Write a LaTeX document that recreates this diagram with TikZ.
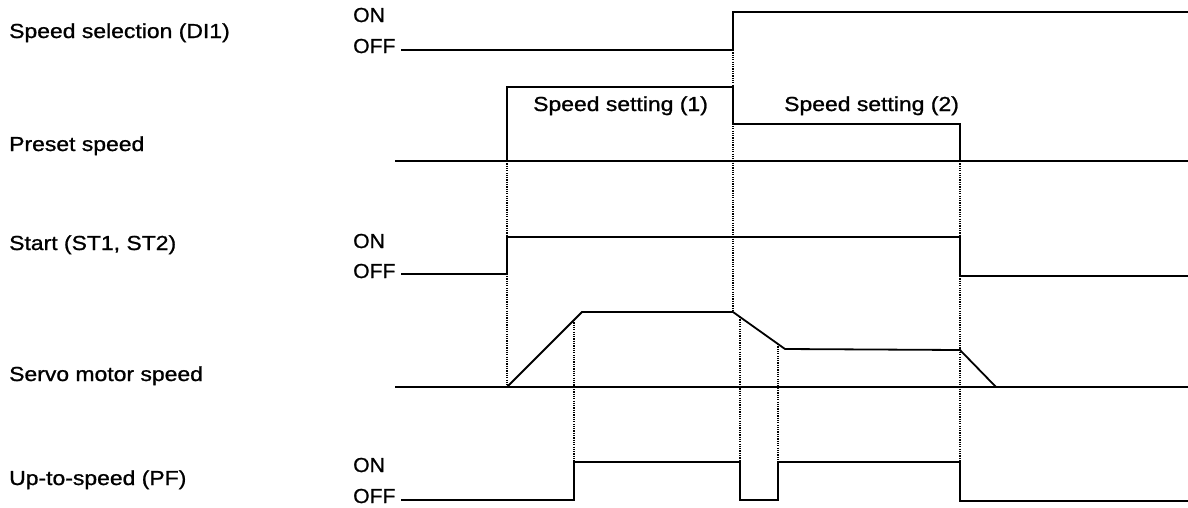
\documentclass[tikz,border=0pt]{standalone}
\usepackage{fontspec}
\usepackage{graphicx}
\setmainfont{Liberation Sans}[FakeBold=0.9]
\newcommand\widetxt[1]{\scalebox{1.13}[1]{#1}}
\newcommand\levtxt[1]{\scalebox{1.04}[1]{#1}}
\begin{document}
\begin{tikzpicture}[x=1pt,y=-1pt,
  wave/.style={line width=1.8pt,line join=miter,line cap=butt},
  guide/.style={line width=1.2pt,dash pattern=on 1.2pt off 1.1pt},
  lbl/.style={anchor=base west,inner sep=0pt,font=\fontsize{20.3}{24}\selectfont}]
\useasboundingbox[fill=white] (0,0) rectangle (1188,507);

% left labels
\node[lbl] (l1) at (9,38) {\widetxt{Speed selection (DI1)}};
\node[lbl] (l2) at (9,151) {\widetxt{Preset speed}};
\node[lbl] (l3) at (9,250) {\widetxt{Start (ST1, ST2)}};
\node[lbl] (l4) at (9,381) {\widetxt{Servo motor speed}};
\node[lbl] (l5) at (9,485) {\widetxt{Up-to-speed (PF)}};

% ON / OFF labels
\node[lbl] (on1) at (353,22) {\levtxt{ON}};
\node[lbl] (off1) at (353,53) {\levtxt{OFF}};
\node[lbl] (on3) at (353,248) {\levtxt{ON}};
\node[lbl] (off3) at (353,278) {\levtxt{OFF}};
\node[lbl] (on5) at (353,472) {\levtxt{ON}};
\node[lbl] (off5) at (353,503) {\levtxt{OFF}};

% speed setting labels
\node[lbl] (ss1) at (533,111) {\widetxt{Speed setting (1)}};
\node[lbl] (ss2) at (784,111) {\widetxt{Speed setting (2)}};

% guide (dotted) lines
\draw[guide] (507,161) -- (507,387);
\draw[guide] (733,50) -- (733,312);
\draw[guide] (960,161) -- (960,462);
\draw[guide] (574,320) -- (574,462);
\draw[guide] (740,317) -- (740,462);
\draw[guide] (778,344) -- (778,462);

% Speed selection (DI1)
\draw[wave] (401,50) -- (733,50) -- (733,12) -- (1188,12);

% Preset speed
\draw[wave] (395,161) -- (1188,161);
\draw[wave] (507,161) -- (507,87) -- (733,87) -- (733,124) -- (960,124) -- (960,161);

% Start
\draw[wave] (401,274) -- (507,274) -- (507,237) -- (960,237) -- (960,276) -- (1188,276);

% Servo motor speed
\draw[wave] (395,387) -- (1188,387);
\draw[wave] (507,387) -- (582,312) -- (733,312) -- (785,349) -- (960,350) -- (996,387);

% Up-to-speed
\draw[wave] (401,500) -- (574,500) -- (574,462) -- (740,462) -- (740,500) -- (778,500) -- (778,462) -- (960,462) -- (960,501) -- (1188,501);
\end{tikzpicture}
\end{document}
